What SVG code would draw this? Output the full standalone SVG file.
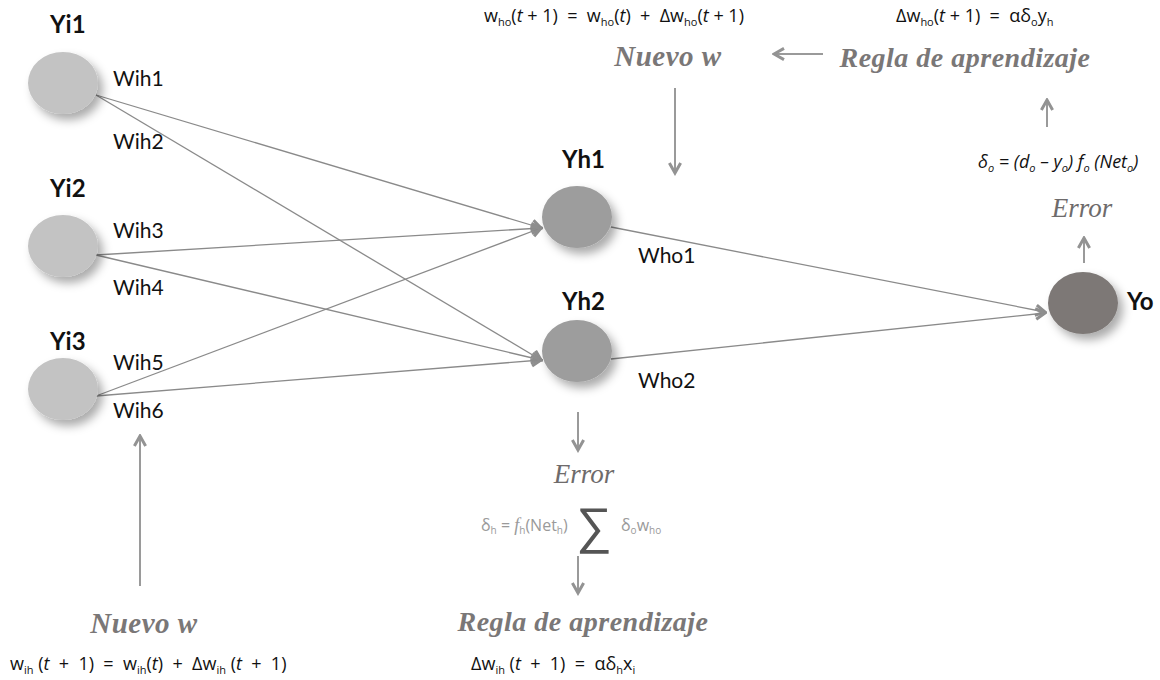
<svg xmlns="http://www.w3.org/2000/svg" width="1160" height="680" viewBox="0 0 1160 680">
<defs>
<filter id="sh" x="-40%" y="-40%" width="190%" height="190%">
<feDropShadow dx="5" dy="6" stdDeviation="5" flood-color="#000" flood-opacity="0.33"/>
</filter>
<marker id="ah" viewBox="0 0 12 12" refX="10" refY="6" markerWidth="14" markerHeight="14" markerUnits="userSpaceOnUse" orient="auto">
<path d="M2,1.5 L10,6 L2,10.5" fill="none" stroke="#8e8e8e" stroke-width="2.6"/>
</marker>
<marker id="pa" viewBox="0 0 12 12" refX="10" refY="6" markerWidth="15" markerHeight="15" markerUnits="userSpaceOnUse" orient="auto">
<path d="M2,1.5 L10,6 L2,10.5" fill="none" stroke="#939393" stroke-width="2.4"/>
</marker>
</defs>
<style>
.lbl{font-family:Lato,"Open Sans",sans-serif;font-weight:bold;font-size:24px;fill:#111}
.w{font-family:Lato,"Open Sans",sans-serif;font-size:21px;fill:#111}
.it{font-family:"Liberation Serif",serif;font-style:italic;font-weight:bold;fill:#7a7777}
.er{font-family:"Liberation Serif",serif;font-style:italic;font-weight:normal;font-size:27px;fill:#6e6b6b}
.f{font-family:"Open Sans","Liberation Sans",sans-serif;font-size:18px;fill:#111;white-space:pre}
.edge{stroke:#8a8a8a;stroke-width:1.3;fill:none;marker-end:url(#ah)}
.proc{stroke:#9a9a9a;stroke-width:2;fill:none;marker-end:url(#pa)}
</style>
<rect width="1160" height="680" fill="#fff"/>

<g id="connectors">
<line class="edge" x1="96" y1="95" x2="541" y2="228"/>
<line class="edge" x1="96" y1="95" x2="541" y2="360"/>
<line class="edge" x1="96" y1="255" x2="541" y2="228"/>
<line class="edge" x1="96" y1="255" x2="541" y2="360"/>
<line class="edge" x1="96" y1="396" x2="541" y2="228"/>
<line class="edge" x1="96" y1="396" x2="541" y2="360"/>
<line class="edge" x1="611" y1="227" x2="1045" y2="312"/>
<line class="edge" x1="611" y1="359" x2="1045" y2="313"/>
<line class="proc" x1="1084" y1="263" x2="1084" y2="238"/>
<line class="proc" x1="1047" y1="127" x2="1047" y2="100"/>
<line class="proc" x1="823" y1="54" x2="774" y2="54"/>
<line class="proc" x1="675" y1="88" x2="675" y2="173"/>
<line class="proc" x1="578" y1="412" x2="578" y2="450"/>
<line class="proc" x1="578" y1="556" x2="578" y2="593"/>
<line class="proc" x1="140" y1="586" x2="140" y2="436"/>
</g>

<g id="Yi1">
<ellipse cx="63" cy="83" rx="35" ry="31" fill="#c3c3c3" filter="url(#sh)"/>
<text class="lbl" x="50" y="33">Yi1</text>
</g>
<g id="Yi2">
<ellipse cx="63" cy="246" rx="35" ry="31" fill="#c3c3c3" filter="url(#sh)"/>
<text class="lbl" x="50" y="197">Yi2</text>
</g>
<g id="Yi3">
<ellipse cx="63" cy="389" rx="35" ry="31" fill="#c3c3c3" filter="url(#sh)"/>
<text class="lbl" x="50" y="350">Yi3</text>
</g>
<g id="Yh1">
<ellipse cx="577" cy="217" rx="35" ry="31" fill="#9d9d9d" filter="url(#sh)"/>
<text class="lbl" x="562" y="168">Yh1</text>
</g>
<g id="Yh2">
<ellipse cx="577" cy="351" rx="35" ry="31" fill="#9d9d9d" filter="url(#sh)"/>
<text class="lbl" x="562" y="310">Yh2</text>
</g>
<g id="Yo">
<ellipse cx="1083" cy="303" rx="35" ry="31" fill="#7d7876" filter="url(#sh)"/>
<text class="lbl" x="1127" y="310">Yo</text>
</g>

<g id="weights">
<text class="w" x="113" y="86">Wih1</text>
<text class="w" x="113" y="149">Wih2</text>
<text class="w" x="113" y="238">Wih3</text>
<text class="w" x="113" y="295">Wih4</text>
<text class="w" x="113" y="370">Wih5</text>
<text class="w" x="113" y="418">Wih6</text>
<text class="w" x="638" y="263">Who1</text>
<text class="w" x="638" y="388">Who2</text>
</g>

<g id="top-update">
<text class="f" x="484" y="22">w<tspan font-size="11" dy="4">ho</tspan><tspan dy="-4">(</tspan><tspan font-style="italic">t</tspan> + 1)  =  w<tspan font-size="11" dy="4">ho</tspan><tspan dy="-4">(</tspan><tspan font-style="italic">t</tspan>)  +  Δw<tspan font-size="11" dy="4">ho</tspan><tspan dy="-4">(</tspan><tspan font-style="italic">t</tspan> + 1)</text>
<text class="it" x="668" y="66" font-size="29" text-anchor="middle" letter-spacing="0.5">Nuevo w</text>
</g>
<g id="top-rule">
<text class="f" x="896" y="22">Δw<tspan font-size="11" dy="4">ho</tspan><tspan dy="-4">(</tspan><tspan font-style="italic">t</tspan> + 1)  =  αδ<tspan font-size="11" dy="4">o</tspan><tspan dy="-4">y</tspan><tspan font-size="11" dy="4">h</tspan></text>
<text class="it" x="965" y="67" font-size="28" text-anchor="middle" letter-spacing="0.5">Regla de aprendizaje</text>
</g>
<g id="out-error">
<text class="f" x="978" y="168" font-style="italic" font-size="17">δ<tspan font-size="11" dy="4">o</tspan><tspan dy="-4"> = (d</tspan><tspan font-size="11" dy="4">o</tspan><tspan dy="-4"> – y</tspan><tspan font-size="11" dy="4">o</tspan><tspan dy="-4">) f</tspan><tspan font-size="11" dy="4">o</tspan><tspan dy="-4"> (Net</tspan><tspan font-size="11" dy="4">o</tspan><tspan dy="-4">)</tspan></text>
<text class="er" x="1082" y="217" text-anchor="middle">Error</text>
</g>

<g id="hid-error">
<text class="er" x="584" y="483" text-anchor="middle">Error</text>
<text x="481" y="531" font-family="'Open Sans','Liberation Sans',sans-serif" font-size="16" fill="#9a9a9a" style="white-space:pre">δ<tspan font-size="10" dy="3">h</tspan><tspan dy="-3"> = </tspan><tspan font-style="italic" font-family="'Liberation Serif',serif" font-size="18">f</tspan><tspan font-size="10" dy="3">h</tspan><tspan dy="-3">(Net</tspan><tspan font-size="10" dy="3">h</tspan><tspan dy="-3">)</tspan></text>
<text x="576" y="543" font-family="'Liberation Sans',sans-serif" font-size="50" fill="#555">∑</text>
<text x="621" y="531" font-family="'Open Sans','Liberation Sans',sans-serif" font-size="16" fill="#9a9a9a">δ<tspan font-size="10" dy="3">o</tspan><tspan dy="-3">w</tspan><tspan font-size="10" dy="3">ho</tspan></text>
<text class="it" x="583" y="631" font-size="28" text-anchor="middle" letter-spacing="0.5">Regla de aprendizaje</text>
<text class="f" x="471" y="670">Δw<tspan font-size="11" dy="4">ih</tspan><tspan dy="-4"> (</tspan><tspan font-style="italic">t</tspan>  +  1)  =  αδ<tspan font-size="11" dy="4">h</tspan><tspan dy="-4">x</tspan><tspan font-size="11" dy="4">i</tspan></text>
</g>

<g id="in-update">
<text class="it" x="144" y="633" font-size="29" text-anchor="middle" letter-spacing="0.5">Nuevo w</text>
<text class="f" x="10" y="670">w<tspan font-size="11" dy="4">ih</tspan><tspan dy="-4"> (</tspan><tspan font-style="italic">t</tspan>  +  1)  =  w<tspan font-size="11" dy="4">ih</tspan><tspan dy="-4">(</tspan><tspan font-style="italic">t</tspan>)  +  Δw<tspan font-size="11" dy="4">ih</tspan><tspan dy="-4"> (</tspan><tspan font-style="italic">t</tspan>  +  1)</text>
</g>
</svg>
